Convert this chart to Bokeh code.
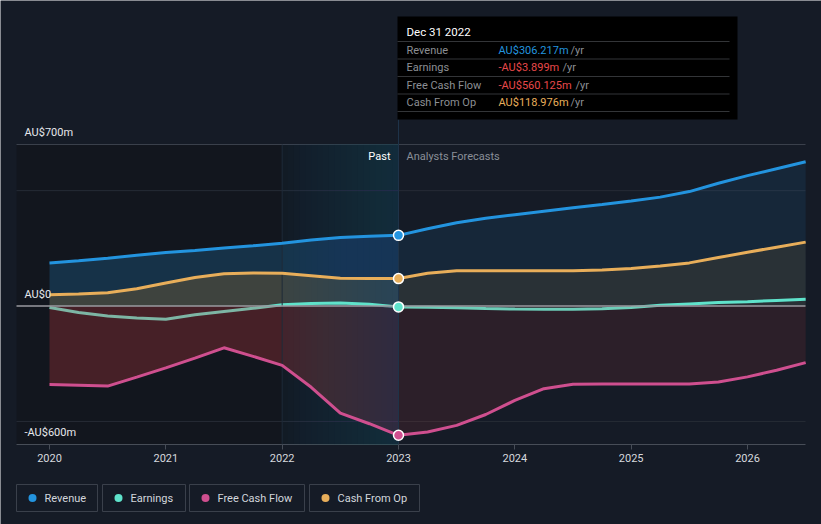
from bokeh.plotting import figure
from bokeh.models import Range1d, LinearAxis, FixedTicker, ColumnDataSource
from bokeh.core.properties import value
from bokeh.embed import file_html
from bokeh.resources import INLINE

# ---------------- data ----------------
dates = [2020.0, 2020.25, 2020.5, 2020.75, 2021.0, 2021.25, 2021.5, 2021.75,
         2022.0, 2022.25, 2022.5, 2022.75, 2023.0, 2023.25, 2023.5, 2023.75,
         2024.0, 2024.25, 2024.5, 2024.75, 2025.0, 2025.25, 2025.5, 2025.75,
         2026.0, 2026.25, 2026.5]
revenue = [186, 196, 207, 220, 232, 241, 251, 261, 272, 286, 297, 302, 306.217,
           335, 361, 380, 396, 411, 426, 440, 455, 472, 496, 532, 565, 595, 625]
earnings = [-6, -28, -43, -52, -57, -38, -24, -10, 6, 11, 13, 8, -3.899,
            -5, -7, -11, -13, -14, -14, -12, -6, 3, 9, 15, 19, 24, 29]
free_cash_flow = [-340, -343, -347, -308, -268, -226, -181, -218, -257, -352, -464, -510, -560.125,
                  -546, -517, -470, -409, -358, -339, -338, -338, -338, -338, -329, -307, -278, -245]
cash_from_op = [49, 52, 58, 75, 100, 124, 140, 143, 142, 131, 120, 119, 118.976,
                142, 153, 153, 153, 153, 153, 156, 163, 173, 187, 210, 233, 255, 277]

series_names = ["Revenue", "Earnings", "Free Cash Flow", "Cash From Op"]
x_ticks = [2020, 2021, 2022, 2023, 2024, 2025, 2026]
x_tick_labels = ["2020", "2021", "2022", "2023", "2024", "2025", "2026"]
y_label_values = [700, 0, -600]
y_label_texts = ["AU$700m", "AU$0", "-AU$600m"]
y_grid_values = [500, -500]
past_end = 2023.0
highlight_start = 2022.0
tooltip_title = "Dec 31 2022"
tooltip_values = [306.217, -3.899, -560.125, 118.976]

# ---------------- style ----------------
BG = "#151b26"
PAST_BG = "#12161e"
C_REV = "#2394df"
C_EARN = "#5fe3cb"
C_FCF = "#cf4f8f"
C_CFO = "#e8ae5a"
C_NEG = "#e8484a"
FONT = value("Roboto")

W, H = 821, 524
PLOT_L, PLOT_R = 16, 805
X_REF_PX, X_REF = 49, 2020.0
PX_PER_YR = (747 - 49) / 6.0
Y_TOP_PX, Y_BOT_PX = 144, 444
Y_TOP, Y_BOT = 700, -600
PX_PER_M = (Y_BOT_PX - Y_TOP_PX) / float(Y_TOP - Y_BOT)


def px2x(px):
    return X_REF + (px - X_REF_PX) / PX_PER_YR


def px2y(py):
    return Y_BOT + (Y_BOT_PX - py) / PX_PER_M


p = figure(width=W, height=H, title=None,
           x_range=Range1d(px2x(0), px2x(W)), y_range=Range1d(px2y(H), px2y(0)),
           x_axis_type=None, y_axis_type=None, toolbar_location=None,
           output_backend="svg", min_border=0, outline_line_color=None,
           background_fill_color=BG, border_fill_color=BG)

XL, XR = px2x(PLOT_L), px2x(PLOT_R)
ip = dates.index(past_end)
past = slice(0, ip + 1)
fut = slice(ip, len(dates))

# past background
p.quad(left=[XL], right=[past_end], bottom=[Y_BOT], top=[Y_TOP], fill_color=PAST_BG, line_color=None)

# grid lines
p.segment(x0=[XL] * len(y_grid_values), x1=[XR] * len(y_grid_values), y0=y_grid_values, y1=y_grid_values,
          line_color="#262c36", line_width=1)
p.segment(x0=[XL], x1=[XR], y0=[Y_TOP], y1=[Y_TOP], line_color="#3a404b", line_width=1)
p.segment(x0=[XL], x1=[XR], y0=[Y_BOT], y1=[Y_BOT], line_color="#474d57", line_width=1.2)

# area fills
p.varea(x=dates[past], y1=revenue[past], y2=[0] * (ip + 1), fill_color=C_REV, fill_alpha=0.22)
p.varea(x=dates[fut], y1=revenue[fut], y2=[0] * (len(dates) - ip), fill_color=C_REV, fill_alpha=0.10)
p.varea(x=dates[past], y1=cash_from_op[past], y2=[0] * (ip + 1), fill_color="#9a6c28", fill_alpha=0.30)
p.varea(x=dates[fut], y1=cash_from_op[fut], y2=[0] * (len(dates) - ip), fill_color="#9a6c28", fill_alpha=0.15)


def highlight(bottom, top):
    n = 20
    for k in range(n):
        x0 = highlight_start + (past_end - highlight_start) * k / n
        a = 0.08 if k == 0 else 0.025
        p.quad(left=[x0], right=[past_end], bottom=[bottom], top=[top],
               fill_color="#1a5482", fill_alpha=a, line_color=None)


highlight(0, Y_TOP)

# earnings line (under the red area)
p.line(dates, earnings, line_color=C_EARN, line_width=3)

# free cash flow red area
p.varea(x=dates[past], y1=[0] * (ip + 1), y2=free_cash_flow[past], fill_color="#cc3e3f", fill_alpha=0.28)
p.varea(x=dates[fut], y1=[0] * (len(dates) - ip), y2=free_cash_flow[fut], fill_color="#cc3e3f", fill_alpha=0.13)

highlight(Y_BOT, 0)

# boundary lines
p.segment(x0=[highlight_start], x1=[highlight_start], y0=[Y_BOT], y1=[Y_TOP], line_color="#1f2b39", line_width=1)
p.segment(x0=[past_end], x1=[past_end], y0=[Y_BOT], y1=[px2y(119)], line_color="#1e3349", line_width=1)

# zero line
p.segment(x0=[XL], x1=[XR], y0=[0], y1=[0], line_color="#9a9aa0", line_width=1.5)

# lines
p.line(dates, revenue, line_color=C_REV, line_width=3)
p.line(dates, cash_from_op, line_color=C_CFO, line_width=3)
p.line(dates, free_cash_flow, line_color=C_FCF, line_width=3)

# markers at the tooltip date
mk = ColumnDataSource(dict(x=[past_end] * 4,
                           y=[revenue[ip], cash_from_op[ip], earnings[ip], free_cash_flow[ip]],
                           c=[C_REV, C_CFO, C_EARN, C_FCF]))
p.scatter("x", "y", source=mk, size=10, fill_color="c", line_color="white", line_width=1.5)

# x axis
xax = LinearAxis(fixed_location=Y_BOT, ticker=FixedTicker(ticks=x_ticks),
                 major_label_overrides={t: l for t, l in zip(x_ticks, x_tick_labels)})
xax.axis_line_color = None
xax.major_tick_line_color = "#474d57"
xax.major_tick_out = 5
xax.major_tick_in = 0
xax.minor_tick_line_color = None
xax.major_label_text_color = "#d6d9de"
xax.major_label_text_font = "Roboto"
xax.major_label_text_font_size = "11px"
xax.major_label_standoff = 4
p.add_layout(xax, "below")

# y labels
p.text(x=[px2x(24)] * 3, y=y_label_values, text=y_label_texts, text_font=FONT, text_font_size="11px",
       text_color="#e6e8eb", text_baseline="middle", text_align="left", y_offset=-12)

# Past / Analysts Forecasts
p.text(x=[px2x(390)], y=[px2y(156)], text=["Past"], text_font=FONT, text_font_size="11px",
       text_color="#ffffff", text_baseline="middle", text_align="right")
p.text(x=[px2x(406)], y=[px2y(156)], text=["Analysts Forecasts"], text_font=FONT, text_font_size="11px",
       text_color="#8a8f98", text_baseline="middle", text_align="left")

# tooltip
p.quad(left=[px2x(397)], right=[px2x(737)], bottom=[px2y(119)], top=[px2y(16)],
       fill_color="#000000", line_color=None)
p.text(x=[px2x(406)], y=[px2y(31)], text=[tooltip_title], text_font=FONT, text_font_size="11.5px",
       text_color="#ffffff", text_baseline="middle", text_align="left", text_font_style="normal")
sep_px = [41, 58.5, 76, 93.5, 111]
p.segment(x0=[px2x(397)] * 5, x1=[px2x(729)] * 5, y0=[px2y(s) for s in sep_px], y1=[px2y(s) for s in sep_px],
          line_color="#333538", line_width=1)
row_px = [49.5, 67, 84.5, 102]
val_colors = [C_REV, C_NEG, C_NEG, C_CFO]
yr_px = [570, 562, 575, 570]
val_texts = [("-" if v < 0 else "") + "AU$" + f"{abs(v):.3f}m" for v in tooltip_values]
p.text(x=[px2x(406)] * 4, y=[px2y(r) for r in row_px], text=series_names, text_font=FONT,
       text_font_size="11px", text_color="#8c8f94", text_baseline="middle", text_align="left")
p.text(x=[px2x(498)] * 4, y=[px2y(r) for r in row_px], text=val_texts, text_font=FONT,
       text_font_size="11px", text_color=val_colors, text_baseline="middle", text_align="left")
p.text(x=[px2x(v) for v in yr_px], y=[px2y(r) for r in row_px], text=["/yr"] * 4, text_font=FONT,
       text_font_size="11px", text_color="#8c8f94", text_baseline="middle", text_align="left")

# legend
box_l = [16, 102, 189, 309]
box_r = [97, 185, 304, 419]
leg_colors = [C_REV, C_EARN, C_FCF, C_CFO]
p.quad(left=[px2x(b) for b in box_l], right=[px2x(b) for b in box_r], bottom=[px2y(511)] * 4,
       top=[px2y(484)] * 4, fill_color=None, line_color="#3a404b", line_width=1)
p.scatter(x=[px2x(b + 16) for b in box_l], y=[px2y(497.5)] * 4, size=8, fill_color=leg_colors, line_color=None)
p.text(x=[px2x(b + 28) for b in box_l], y=[px2y(497.5)] * 4, text=series_names, text_font=FONT,
       text_font_size="11px", text_color="#d2d6dc", text_baseline="middle", text_align="left")

open("out.html", "w").write(file_html(p, INLINE))
